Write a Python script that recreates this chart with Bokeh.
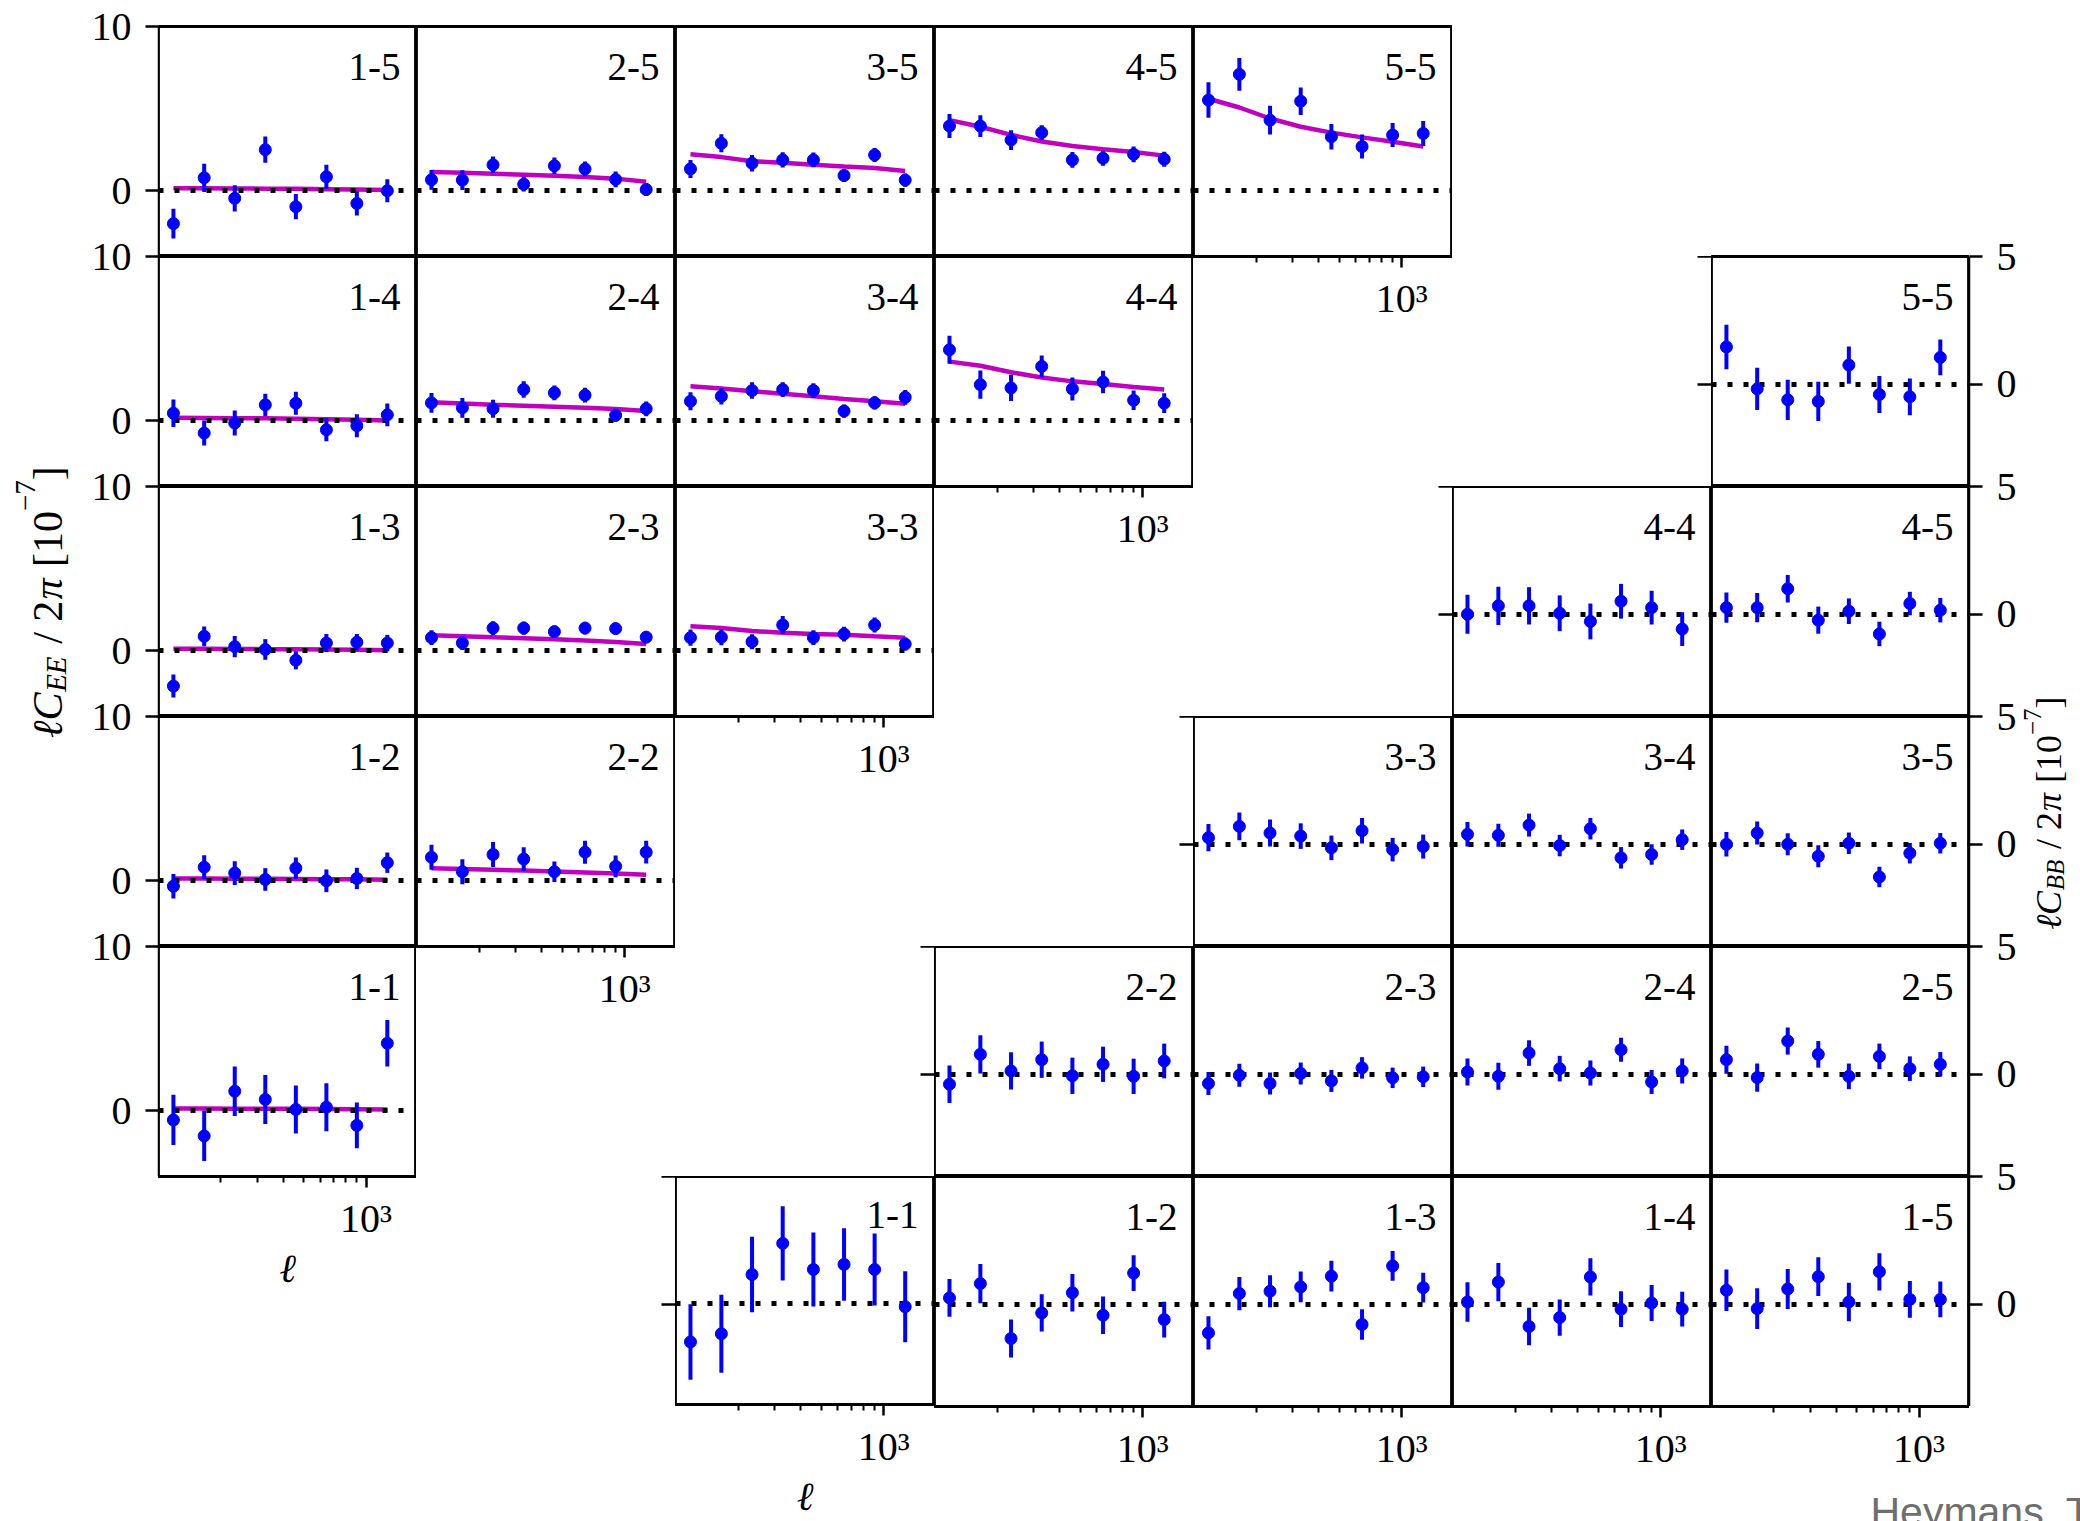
import math
from bokeh.plotting import figure
from bokeh.layouts import row, column
from bokeh.models import Range1d, LinearAxis, LogAxis, FixedTicker, Label, Spacer
from bokeh.embed import file_html
from bokeh.resources import INLINE

# ---------------- data ----------------
ell = [118, 166, 233, 327, 459, 644, 903, 1266]
x_limits = (100, 1750)
x_major = [1000]
x_minor = [200, 300, 400, 500, 600, 700, 800, 900]
x_tick_label = "10³"
ee_limits = (-4, 10)
bb_limits = (-4, 5)
ee_yticks = [0, 10]
bb_yticks = [0, 5]

# E-mode: values, errors, theory (units 1e-7)
ee_15_val = [-2.0, 0.79, -0.46, 2.5, -0.97, 0.85, -0.77, 0.0]
ee_15_err = [0.9, 0.86, 0.8, 0.8, 0.77, 0.73, 0.74, 0.7]
ee_15_th = [0.15, 0.15, 0.14, 0.13, 0.12, 0.1, 0.08, 0.05]
ee_25_val = [0.67, 0.65, 1.58, 0.4, 1.52, 1.33, 0.69, 0.08]
ee_25_err = [0.6, 0.6, 0.5, 0.45, 0.5, 0.45, 0.48, 0.4]
ee_25_th = [1.15, 1.1, 1.04, 0.98, 0.92, 0.84, 0.74, 0.55]
ee_35_val = [1.33, 2.89, 1.68, 1.88, 1.88, 0.93, 2.18, 0.65]
ee_35_err = [0.55, 0.55, 0.5, 0.47, 0.45, 0.4, 0.43, 0.4]
ee_35_th = [2.22, 2.05, 1.8, 1.7, 1.58, 1.48, 1.39, 1.21]
ee_45_val = [3.94, 3.94, 3.09, 3.54, 1.88, 1.98, 2.22, 1.92]
ee_45_err = [0.73, 0.66, 0.6, 0.45, 0.48, 0.45, 0.48, 0.45]
ee_45_th = [4.3, 3.9, 3.4, 3.0, 2.73, 2.53, 2.36, 2.14]
ee_55_val = [5.52, 7.09, 4.30, 5.45, 3.29, 2.69, 3.39, 3.49]
ee_55_err = [1.08, 1.0, 0.88, 0.84, 0.78, 0.73, 0.73, 0.76]
ee_55_th = [5.6, 5.07, 4.4, 3.9, 3.54, 3.25, 2.99, 2.69]
ee_14_val = [0.46, -0.75, -0.14, 0.97, 1.07, -0.55, -0.30, 0.36]
ee_14_err = [0.84, 0.76, 0.76, 0.68, 0.7, 0.7, 0.7, 0.69]
ee_14_th = [0.18, 0.17, 0.16, 0.15, 0.13, 0.1, 0.07, 0.02]
ee_24_val = [1.09, 0.79, 0.73, 1.9, 1.7, 1.56, 0.34, 0.73]
ee_24_err = [0.6, 0.6, 0.55, 0.5, 0.45, 0.45, 0.4, 0.45]
ee_24_th = [1.13, 1.05, 0.98, 0.92, 0.86, 0.8, 0.72, 0.59]
ee_34_val = [1.19, 1.49, 1.84, 1.9, 1.84, 0.59, 1.09, 1.43]
ee_34_err = [0.55, 0.5, 0.5, 0.45, 0.45, 0.4, 0.4, 0.45]
ee_34_th = [2.10, 1.96, 1.8, 1.64, 1.5, 1.33, 1.19, 1.03]
ee_44_val = [4.32, 2.2, 2.0, 3.31, 1.94, 2.36, 1.25, 1.07]
ee_44_err = [0.85, 0.86, 0.8, 0.66, 0.7, 0.68, 0.6, 0.6]
ee_44_th = [3.6, 3.35, 2.95, 2.64, 2.4, 2.24, 2.06, 1.9]
ee_13_val = [-2.15, 0.88, 0.25, 0.08, -0.58, 0.47, 0.52, 0.47]
ee_13_err = [0.7, 0.6, 0.65, 0.63, 0.55, 0.55, 0.5, 0.5]
ee_13_th = [0.12, 0.12, 0.11, 0.1, 0.09, 0.08, 0.06, 0.04]
ee_23_val = [0.8, 0.47, 1.38, 1.38, 1.16, 1.38, 1.35, 0.83]
ee_23_err = [0.45, 0.42, 0.42, 0.4, 0.38, 0.38, 0.36, 0.36]
ee_23_th = [0.94, 0.88, 0.82, 0.76, 0.7, 0.62, 0.53, 0.41]
ee_33_val = [0.8, 0.83, 0.55, 1.57, 0.8, 1.02, 1.57, 0.41]
ee_33_err = [0.5, 0.5, 0.45, 0.55, 0.45, 0.45, 0.45, 0.4]
ee_33_th = [1.49, 1.38, 1.2, 1.1, 1.02, 0.97, 0.88, 0.8]
ee_12_val = [-0.33, 0.83, 0.47, 0.08, 0.77, 0.0, 0.14, 1.1]
ee_12_err = [0.75, 0.72, 0.72, 0.69, 0.65, 0.69, 0.65, 0.62]
ee_12_th = [0.14, 0.14, 0.13, 0.12, 0.11, 0.1, 0.09, 0.07]
ee_22_val = [1.43, 0.55, 1.6, 1.32, 0.55, 1.74, 0.88, 1.74]
ee_22_err = [0.76, 0.76, 0.76, 0.72, 0.63, 0.7, 0.66, 0.69]
ee_22_th = [0.77, 0.72, 0.67, 0.62, 0.57, 0.51, 0.45, 0.36]
ee_11_val = [-0.56, -1.53, 1.19, 0.69, 0.08, 0.22, -0.89, 4.11]
ee_11_err = [1.53, 1.53, 1.5, 1.49, 1.46, 1.46, 1.39, 1.42]
ee_11_th = [0.14, 0.14, 0.13, 0.13, 0.12, 0.11, 0.1, 0.08]

# B-mode: values, errors
bb_55_val = [1.46, -0.18, -0.61, -0.67, 0.75, -0.4, -0.49, 1.05]
bb_55_err = [0.87, 0.83, 0.79, 0.77, 0.73, 0.72, 0.72, 0.7]
bb_44_val = [0.0, 0.33, 0.33, 0.04, -0.28, 0.51, 0.26, -0.58]
bb_44_err = [0.76, 0.75, 0.73, 0.7, 0.7, 0.68, 0.66, 0.66]
bb_45_val = [0.26, 0.26, 1.0, -0.23, 0.12, -0.77, 0.42, 0.16]
bb_45_err = [0.59, 0.57, 0.54, 0.53, 0.5, 0.48, 0.46, 0.48]
bb_33_val = [0.26, 0.70, 0.44, 0.32, -0.14, 0.53, -0.21, -0.09]
bb_33_err = [0.53, 0.54, 0.53, 0.5, 0.48, 0.5, 0.46, 0.47]
bb_34_val = [0.39, 0.35, 0.75, -0.05, 0.61, -0.53, -0.4, 0.18]
bb_34_err = [0.48, 0.45, 0.45, 0.42, 0.42, 0.42, 0.4, 0.4]
bb_35_val = [0.0, 0.44, 0.0, -0.47, 0.04, -1.28, -0.35, 0.04]
bb_35_err = [0.48, 0.45, 0.43, 0.43, 0.42, 0.4, 0.4, 0.4]
bb_22_val = [-0.39, 0.78, 0.13, 0.57, -0.06, 0.39, -0.08, 0.52]
bb_22_err = [0.73, 0.75, 0.73, 0.71, 0.71, 0.69, 0.69, 0.68]
bb_23_val = [-0.36, -0.04, -0.36, 0.03, -0.26, 0.25, -0.14, -0.1]
bb_23_err = [0.45, 0.45, 0.43, 0.43, 0.43, 0.42, 0.4, 0.4]
bb_24_val = [0.09, -0.08, 0.83, 0.22, 0.05, 0.96, -0.3, 0.13]
bb_24_err = [0.53, 0.53, 0.5, 0.5, 0.49, 0.47, 0.47, 0.49]
bb_25_val = [0.57, -0.13, 1.3, 0.78, -0.08, 0.7, 0.22, 0.39]
bb_25_err = [0.55, 0.55, 0.53, 0.52, 0.5, 0.5, 0.48, 0.48]
bb_11_val = [-1.53, -1.21, 1.13, 2.36, 1.33, 1.53, 1.33, -0.14]
bb_11_err = [1.49, 1.54, 1.49, 1.47, 1.46, 1.43, 1.42, 1.4]
bb_12_val = [0.25, 0.81, -1.34, -0.34, 0.45, -0.43, 1.22, -0.6]
bb_12_err = [0.74, 0.77, 0.74, 0.73, 0.73, 0.73, 0.7, 0.7]
bb_13_val = [-1.12, 0.42, 0.51, 0.68, 1.1, -0.79, 1.5, 0.65]
bb_13_err = [0.65, 0.65, 0.63, 0.6, 0.6, 0.6, 0.58, 0.58]
bb_14_val = [0.09, 0.87, -0.87, -0.52, 1.07, -0.19, 0.05, -0.19]
bb_14_err = [0.77, 0.75, 0.73, 0.71, 0.73, 0.7, 0.7, 0.68]
bb_15_val = [0.55, -0.17, 0.6, 1.08, 0.09, 1.27, 0.19, 0.19]
bb_15_err = [0.81, 0.8, 0.78, 0.76, 0.75, 0.73, 0.72, 0.7]

EE = {
    (1, 5): (ee_15_val, ee_15_err, ee_15_th), (2, 5): (ee_25_val, ee_25_err, ee_25_th),
    (3, 5): (ee_35_val, ee_35_err, ee_35_th), (4, 5): (ee_45_val, ee_45_err, ee_45_th),
    (5, 5): (ee_55_val, ee_55_err, ee_55_th), (1, 4): (ee_14_val, ee_14_err, ee_14_th),
    (2, 4): (ee_24_val, ee_24_err, ee_24_th), (3, 4): (ee_34_val, ee_34_err, ee_34_th),
    (4, 4): (ee_44_val, ee_44_err, ee_44_th), (1, 3): (ee_13_val, ee_13_err, ee_13_th),
    (2, 3): (ee_23_val, ee_23_err, ee_23_th), (3, 3): (ee_33_val, ee_33_err, ee_33_th),
    (1, 2): (ee_12_val, ee_12_err, ee_12_th), (2, 2): (ee_22_val, ee_22_err, ee_22_th),
    (1, 1): (ee_11_val, ee_11_err, ee_11_th),
}
BB = {
    (5, 5): (bb_55_val, bb_55_err), (4, 4): (bb_44_val, bb_44_err), (4, 5): (bb_45_val, bb_45_err),
    (3, 3): (bb_33_val, bb_33_err), (3, 4): (bb_34_val, bb_34_err), (3, 5): (bb_35_val, bb_35_err),
    (2, 2): (bb_22_val, bb_22_err), (2, 3): (bb_23_val, bb_23_err), (2, 4): (bb_24_val, bb_24_err),
    (2, 5): (bb_25_val, bb_25_err), (1, 1): (bb_11_val, bb_11_err), (1, 2): (bb_12_val, bb_12_err),
    (1, 3): (bb_13_val, bb_13_err), (1, 4): (bb_14_val, bb_14_err), (1, 5): (bb_15_val, bb_15_err),
}

# ---------------- style ----------------
SERIF = "Liberation Serif"
BLUE = "#0000ff"
MAG = "#bf00bf"
FW, FH = 259, 230
BB_RANGES = {k: Range1d(*bb_limits) for k in BB}


def new_fig(width, height, yr, left=0, right=0, top=0, bottom=0, outline=True, log=True, xr=None):
    p = figure(width=width, height=height, x_axis_type="log" if log else "linear",
               x_range=xr if xr is not None else Range1d(*x_limits),
               y_range=yr, x_axis_location=None, y_axis_location=None,
               toolbar_location=None, tools="", output_backend="svg",
               min_border_left=left, min_border_right=right,
               min_border_top=top, min_border_bottom=bottom)
    p.xgrid.visible = False
    p.ygrid.visible = False
    p.background_fill_color = "white"
    p.border_fill_color = "white"
    if outline:
        p.outline_line_color = "black"
        p.outline_line_width = 2.8
        p.outline_line_alpha = 1.0
    else:
        p.outline_line_color = None
    return p


def style_axis(ax, tick=11, standoff=8):
    ax.major_tick_in = 0
    ax.major_tick_out = tick
    ax.minor_tick_in = 0
    ax.minor_tick_out = 0
    ax.major_tick_line_width = 2.5
    ax.minor_tick_line_width = 2
    ax.axis_line_width = 2.5
    ax.axis_line_color = "black"
    ax.major_tick_line_color = "black"
    ax.minor_tick_line_color = "black"
    ax.major_label_text_font = SERIF
    ax.major_label_text_font_size = "40px"
    ax.major_label_text_color = "black"
    ax.major_label_standoff = standoff
    return ax


def add_x_axis(p, label=None):
    ax = LogAxis(ticker=FixedTicker(ticks=x_major, minor_ticks=x_minor),
                 major_label_overrides={x_major[0]: x_tick_label})
    style_axis(ax)
    ax.minor_tick_out = 6
    if label:
        ax.axis_label = label
        ax.axis_label_text_font = SERIF
        ax.axis_label_text_font_style = "italic"
        ax.axis_label_text_font_size = "40px"
        ax.axis_label_text_color = "black"
        ax.axis_label_standoff = 2
    p.add_layout(ax, "below")


def panel(kind, i, j, height, top=0, bottom=0, width=FW):
    if kind == "EE":
        vals, errs, th = EE[(i, j)]
        yr = Range1d(*ee_limits)
    else:
        vals, errs = BB[(i, j)]
        th = None
        yr = BB_RANGES[(i, j)]
    p = new_fig(width, height, yr, top=top, bottom=bottom)
    fh = height - top - bottom
    if th is not None:
        p.line(ell, th, line_color=MAG, line_width=4.5)
    p.hspan(y=[0], line_color="black", line_width=5, line_dash="5 11")
    lo = [v - e for v, e in zip(vals, errs)]
    hi = [v + e for v, e in zip(vals, errs)]
    p.segment(x0=ell, y0=lo, x1=ell, y1=hi, line_color=BLUE, line_width=4)
    p.scatter(ell, vals, size=12, color=BLUE)
    p.add_layout(Label(x=width - 16, y=fh - 40, x_units="screen", y_units="screen",
                       text=f"{i}-{j}", text_align="right", text_baseline="middle",
                       text_font=SERIF, text_font_size="39px", text_color="black"))
    return p


def tick_fig(key):
    # empty cell left of a B-mode row: carries that row's left ticks (drawn inward)
    p = new_fig(FW, FH, BB_RANGES[key], outline=False)
    ax = LinearAxis(ticker=FixedTicker(ticks=bb_yticks, minor_ticks=[]),
                    major_label_overrides={bb_yticks[0]: "", bb_yticks[1]: ""})
    style_axis(ax, tick=0, standoff=0)
    ax.major_tick_in = 14
    ax.axis_line_color = None
    ax.major_label_text_font_size = "0px"
    p.add_layout(ax, "right")
    return p


def stacked_axis(width, height, side, limits, ticks, n, top):
    # one tall axis carrying the tick labels of n stacked panels
    span = limits[1] - limits[0]
    yr = Range1d(limits[0] - span * (n - 1), limits[1])
    kw = dict(left=0, right=0)
    kw[side] = width - 1
    p = new_fig(width, height, yr, top=top, bottom=height - top - FH * n, outline=False,
                log=False, xr=Range1d(0, 1), **kw)
    t, ov = [], {}
    for r in range(n):
        for v in ticks:
            g = v - span * r
            t.append(g)
            ov[g] = str(v)
    ax = LinearAxis(ticker=FixedTicker(ticks=t, minor_ticks=[]), major_label_overrides=ov)
    style_axis(ax, tick=13, standoff=14)
    ax.axis_line_width = 1.5
    p.add_layout(ax, side)
    return p


def label_fig(width, height, top=0):
    # frame starts at `top` (matches the border of its neighbour); data units = page pixels
    p = figure(width=width, height=height, x_range=Range1d(0, width), y_range=Range1d(height, top),
               x_axis_location=None, y_axis_location=None, toolbar_location=None, tools="",
               output_backend="svg", min_border_left=0, min_border_right=0,
               min_border_top=top, min_border_bottom=0)
    p.xgrid.visible = False
    p.ygrid.visible = False
    p.outline_line_color = None
    p.background_fill_color = "white"
    p.border_fill_color = "white"
    return p


def vertical_label(p, cx, cy, sub, F, S, sub_dx, sup_dx):
    # pieces read bottom-to-top; each one is centred on its own slot
    pieces = [("ℓC", F, "italic", 0, 1.117, 0.0),
              (sub, S, "italic", sub_dx, 1.222, 0.0),
              ("/ 2", F, "normal", 0, 1.028, 0.3),
              ("π", F, "italic", 0, 0.55, 0.0),
              ("[10", F, "normal", 0, 1.333, 0.25),
              ("−7", S, "normal", sup_dx, 1.064, 0.0),
              ("]", F, "normal", 0, 0.333, 0.0)]
    total = sum(sz * w + g * F for _, sz, _, _, w, g in pieces)
    y = cy + total / 2
    for text, sz, style, dx, w, g in pieces:
        y -= g * F
        yc = y - w * sz / 2
        p.add_layout(Label(x=cx + dx, y=yc, text=text, angle=math.pi / 2,
                           text_font=SERIF, text_font_size=f"{sz}px", text_font_style=style,
                           text_align="center", text_baseline="middle", text_color="black"))
        y -= w * sz


# ---------------- layout ----------------
ee_lab = label_fig(88, 1521, top=26)
vertical_label(ee_lab, 47, 602, "EE", 42, 29, 8.5, -22)
ee_axis = stacked_axis(70, 1176, "left", ee_limits, ee_yticks, 5, 26)

# column 0
p15 = panel("EE", 1, 5, 256, top=26, width=258)
p14 = panel("EE", 1, 4, 230, width=258)
p13 = panel("EE", 1, 3, 230, width=258)
p12 = panel("EE", 1, 2, 230, width=258)
p11 = panel("EE", 1, 1, 360, bottom=130, width=258)
add_x_axis(p11, "ℓ")
col0 = column(p15, p14, p13, p12, p11)

# column 1
p25 = panel("EE", 2, 5, 256, top=26)
p24 = panel("EE", 2, 4, 230)
p23 = panel("EE", 2, 3, 230)
p22 = panel("EE", 2, 2, 340, bottom=110)
add_x_axis(p22)
col1 = column(p25, p24, p23, p22, Spacer(width=FW, height=120), tick_fig((1, 1)))

# column 2
p35 = panel("EE", 3, 5, 256, top=26)
p34 = panel("EE", 3, 4, 230)
p33 = panel("EE", 3, 3, 340, bottom=110)
add_x_axis(p33)
b11 = panel("BB", 1, 1, 345, bottom=115)
add_x_axis(b11, "ℓ")
col2 = column(p35, p34, p33, Spacer(width=FW, height=120), tick_fig((2, 2)), b11)

# column 3
p45 = panel("EE", 4, 5, 256, top=26)
p44 = panel("EE", 4, 4, 340, bottom=110)
add_x_axis(p44)
b22 = panel("BB", 2, 2, 230)
b12 = panel("BB", 1, 2, 345, bottom=115)
add_x_axis(b12)
col3 = column(p45, p44, Spacer(width=FW, height=120), tick_fig((3, 3)), b22, b12)

# column 4
p55 = panel("EE", 5, 5, 366, top=26, bottom=110)
add_x_axis(p55)
b33 = panel("BB", 3, 3, 230)
b23 = panel("BB", 2, 3, 230)
b13 = panel("BB", 1, 3, 345, bottom=115)
add_x_axis(b13)
col4 = column(p55, Spacer(width=FW, height=120), tick_fig((4, 4)), b33, b23, b13)

# column 5
b44 = panel("BB", 4, 4, 230)
b34 = panel("BB", 3, 4, 230)
b24 = panel("BB", 2, 4, 230)
b14 = panel("BB", 1, 4, 345, bottom=115)
add_x_axis(b14)
col5 = column(Spacer(width=FW, height=256), tick_fig((5, 5)), b44, b34, b24, b14)

# column 6 + right axis + label
b55 = panel("BB", 5, 5, 260, top=30, width=258)
b45 = panel("BB", 4, 5, 230, width=258)
b35 = panel("BB", 3, 5, 230, width=258)
b25 = panel("BB", 2, 5, 230, width=258)
b15 = panel("BB", 1, 5, 310, bottom=80, width=258)
add_x_axis(b15)
col6 = column(Spacer(width=258, height=226), b55, b45, b35, b25, b15)

bb_axis = stacked_axis(49, 1406, "right", bb_limits, bb_yticks, 5, 256)
bb_lab = label_fig(62, 1486, top=256)
vertical_label(bb_lab, 30, 813, "BB", 36, 25, 7, -16)

wm = label_fig(369, 35)
wm.add_layout(Label(x=159, y=2, text="Heymans, T. et al.", text_font="Liberation Sans",
                    text_font_size="41px", text_color="#6e6e6e",
                    text_align="left", text_baseline="top"))

right_part = column(row(col6, bb_axis, bb_lab), wm)

layout = row(ee_lab, ee_axis, col0, col1, col2, col3, col4, col5, right_part)

open("out.html", "w").write(file_html(layout, INLINE))
